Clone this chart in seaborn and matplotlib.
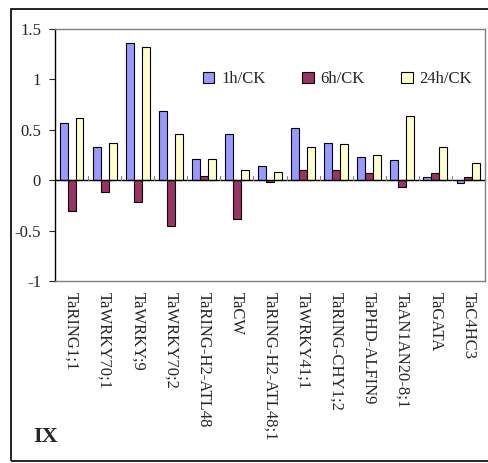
import matplotlib
matplotlib.use("Agg")
import matplotlib.pyplot as plt
import matplotlib.patches as mpatches
import pandas as pd
import seaborn as sns

genes = ["TaRING1;1", "TaWRKY70;1", "TaWRKY;9", "TaWRKY70;2", "TaRING-H2-ATL48",
         "TaCW", "TaRING-H2-ATL48;1", "TaWRKY41;1", "TaRING-CHY1;2", "TaPHD-ALFIN9",
         "TaAN1AN20-8;1", "TaGATA", "TaC4HC3"]
h1 = [0.57, 0.33, 1.36, 0.69, 0.21, 0.46, 0.145, 0.52, 0.37, 0.23, 0.20, 0.03, -0.03]
h6 = [-0.31, -0.12, -0.22, -0.45, 0.04, -0.38, -0.02, 0.10, 0.10, 0.07, -0.07, 0.07, 0.03]
h24 = [0.62, 0.37, 1.32, 0.46, 0.21, 0.10, 0.085, 0.33, 0.36, 0.25, 0.64, 0.33, 0.17]
series = ["1h/CK", "6h/CK", "24h/CK"]
colors = ["#9999FF", "#993366", "#FFFFCC"]

df = pd.DataFrame({
    "gene": genes * 3,
    "ratio": h1 + h6 + h24,
    "time": [s for s in series for _ in genes],
})

sns.set_style("white")
plt.rcParams["font.family"] = ["Liberation Serif", "DejaVu Serif"]

fig = plt.figure(figsize=(4.88, 4.63), dpi=100)
ax = fig.add_axes([55 / 488, 1 - 281 / 463, 430 / 488, 252 / 463])

sns.barplot(data=df, x="gene", y="ratio", hue="time", hue_order=series,
            palette=colors, width=0.72, edgecolor="black", linewidth=0.8,
            saturation=1, ax=ax)

ax.set_ylim(-1, 1.5)
ax.set_xlim(-0.5, len(genes) - 0.5)
ax.set_yticks([-1, -0.5, 0, 0.5, 1, 1.5])
ax.set_yticklabels(["-1", "-0.5", "0", "0.5", "1", "1.5"], fontsize=12)
ax.tick_params(axis="y", direction="out", length=4, width=0.8, pad=6, left=True)
ax.set_xticks(range(len(genes)))
ax.set_xticklabels(genes, rotation=-90, fontsize=12, va="top", ha="center")
ax.tick_params(axis="x", length=0, pad=8)
ax.set_xlabel("")
ax.set_ylabel("")

# category axis crosses at zero
ax.axhline(0, color="black", lw=1, zorder=3)
for i in range(len(genes) - 1):
    ax.plot([i + 0.5, i + 0.5], [0, 0.04], color="#808080", lw=0.8, zorder=3)

for side in ["top", "right", "bottom"]:
    ax.spines[side].set_color("#808080")
    ax.spines[side].set_linewidth(1)
ax.spines["left"].set_color("black")
ax.spines["left"].set_linewidth(1)

ax.legend(loc="center", bbox_to_anchor=(0.657, 0.80), ncol=3, frameon=False,
          fontsize=12, handlelength=0.7, handleheight=0.7, handletextpad=0.4,
          columnspacing=2.2)

fig.text(33 / 488, 1 - 437 / 463, "IX", fontsize=16, fontweight="bold",
         ha="left", va="center")

fig.patches.append(mpatches.Rectangle((11 / 488, 1 - 461 / 463), 1.0,
                                      (461 - 9) / 463, transform=fig.transFigure,
                                      fill=False, edgecolor="black", lw=1.2))

fig.savefig("out.png", dpi=100)
